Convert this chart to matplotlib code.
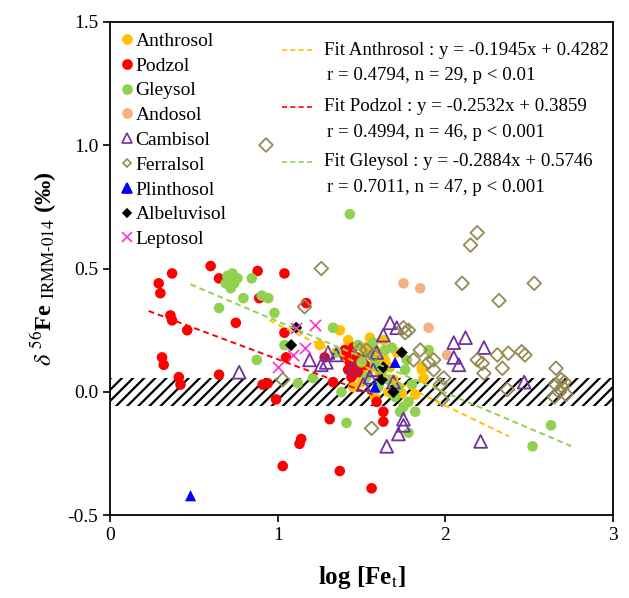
import numpy as np
import matplotlib
matplotlib.use('Agg')
import matplotlib.pyplot as plt
from matplotlib.lines import Line2D

plt.rcParams['font.family'] = ['Liberation Serif', 'DejaVu Serif']
plt.rcParams['mathtext.fontset'] = 'stix'
plt.rcParams['hatch.linewidth'] = 1.6

# ---- data: log[Fe_t] vs d56Fe ----
anthrosol_x = [1.37, 1.25, 1.42, 1.55, 1.63, 1.49, 1.59, 1.67, 1.53, 1.61, 1.86, 1.87, 1.73, 1.82, 1.71,
               1.45, 1.66, 1.86, 1.52, 1.58, 1.47, 1.56, 1.64, 1.74, 1.60, 1.50, 1.69, 1.40, 1.58]
anthrosol_y = [0.25, 0.19, 0.21, 0.22, 0.21, 0.14, 0.13, 0.10, 0.07, 0.07, 0.09, 0.055, 0.0, -0.01, 0.16,
               0.02, 0.0, 0.10, 0.18, 0.17, 0.10, 0.10, 0.13, -0.005, 0.02, 0.04, 0.05, 0.14, -0.02]

podzol_x = [0.29, 0.30, 0.37, 0.60, 0.65, 0.88, 1.04, 0.36, 0.37, 0.46, 0.75, 0.89, 1.04, 1.05, 1.17,
            0.31, 0.32, 0.41, 0.42, 0.65, 0.91, 0.94, 0.99, 1.14, 1.13, 1.03, 1.31, 1.37, 1.56, 1.63,
            1.63, 1.59, 1.28, 1.33, 1.41, 1.43, 1.45, 1.46, 1.48, 1.50, 1.42, 1.52, 1.40, 1.47, 1.44, 1.49]
podzol_y = [0.44, 0.40, 0.48, 0.51, 0.46, 0.49, 0.48, 0.31, 0.29, 0.25, 0.28, 0.38, 0.24, 0.14, 0.36,
            0.14, 0.11, 0.06, 0.03, 0.07, 0.03, 0.035, -0.03, -0.19, -0.21, -0.30, -0.11, -0.32, -0.39, -0.08,
            -0.12, -0.04, 0.14, 0.04, 0.15, 0.12, 0.18, 0.10, 0.08, 0.13, 0.09, 0.11, 0.17, 0.14, 0.06, 0.11]

gleysol_x = [0.70, 0.73, 0.74, 0.72, 0.76, 0.69, 0.845, 0.65, 0.795, 0.905, 0.944, 0.98, 0.875, 1.04, 1.43,
             1.33, 1.90, 1.12, 1.21, 1.38, 1.41, 1.73, 1.75, 1.78, 1.82, 1.78, 2.63, 2.52, 1.57, 1.77,
             1.55, 1.62, 1.68, 1.50, 1.60, 1.66, 1.70, 1.80, 1.53, 1.35, 1.76, 1.64, 1.58, 1.72, 1.48]
gleysol_y = [0.47, 0.48, 0.44, 0.42, 0.46, 0.44, 0.46, 0.34, 0.38, 0.39, 0.38, 0.32, 0.13, 0.19, 0.72,
             0.26, 0.17, 0.035, 0.056, 0.0, -0.125, -0.08, -0.06, -0.04, -0.08, -0.165, -0.135, -0.22, 0.20, 0.13,
             0.15, 0.08, 0.18, 0.12, 0.02, 0.05, -0.02, 0.03, 0.06, 0.16, 0.09, 0.17, 0.11, 0.02, 0.19]

andosol_x = [1.75, 1.85, 1.90, 2.01]
andosol_y = [0.44, 0.42, 0.26, 0.15]

cambisol_x = [0.77, 1.19, 1.26, 1.30, 1.29, 1.51, 1.55, 1.57, 1.59, 1.63, 1.67, 1.71, 1.69, 1.75, 1.75,
              1.72, 1.65, 2.05, 2.12, 2.23, 2.05, 2.08, 2.47, 2.21, 1.45, 1.35]
cambisol_y = [0.08, 0.13, 0.11, 0.16, 0.12, 0.03, 0.06, 0.09, 0.16, 0.23, 0.28, 0.26, 0.04, -0.11, -0.135,
              -0.17, -0.22, 0.20, 0.22, 0.18, 0.14, 0.11, 0.04, -0.20, 0.10, 0.15]

ferralsol_x = [0.93, 1.26, 1.16, 1.75, 1.76, 1.78, 2.19, 2.15, 2.10, 2.53, 2.32, 2.31, 2.375, 2.455, 2.475,
               2.19, 2.22, 2.23, 2.34, 2.66, 1.93, 1.93, 1.99, 1.98, 2.37, 2.66, 2.68, 2.70, 2.72, 2.69,
               2.65, 2.71, 1.56, 1.53, 1.57, 1.81, 1.90, 1.49, 1.97, 1.85, 1.03]
ferralsol_y = [1.0, 0.50, 0.345, 0.26, 0.24, 0.25, 0.645, 0.595, 0.44, 0.44, 0.37, 0.15, 0.157, 0.163, 0.15,
               0.13, 0.116, 0.076, 0.096, 0.096, 0.13, 0.09, 0.057, -0.03, 0.01, 0.03, 0.0, 0.02, -0.01, 0.05,
               -0.02, 0.04, -0.147, 0.17, 0.15, 0.13, 0.12, 0.17, 0.03, 0.17, 0.05]

plinthosol_x = [0.48, 1.70, 1.58]
plinthosol_y = [-0.42, 0.12, 0.02]

albeluvisol_x = [1.08, 1.11, 1.74, 1.63, 1.62, 1.69]
albeluvisol_y = [0.19, 0.26, 0.16, 0.10, 0.05, 0.0]

leptosol_x = [1.11, 1.22, 1.16, 1.00, 1.09]
leptosol_y = [0.26, 0.27, 0.18, 0.10, 0.15]

# fitted lines as drawn (start x, end x, start y, end y)
fit_names = ['Anthrosol', 'Podzol', 'Gleysol']
fit_x0 = [0.95, 0.23, 0.48]
fit_x1 = [2.38, 1.59, 2.75]
fit_y0 = [0.29, 0.328, 0.436]
fit_y1 = [-0.18, -0.017, -0.219]
fit_eq = ['y = -0.1945x + 0.4282', 'y = -0.2532x + 0.3859', 'y = -0.2884x + 0.5746']
fit_stat = ['r = 0.4794, n = 29, p < 0.01', 'r = 0.4994, n = 46, p < 0.001', 'r = 0.7011, n = 47, p < 0.001']

c_orange = '#FFC000'
c_red = '#FF0000'
c_green = '#92D050'
c_peach = '#F4B183'
c_purple = '#7030A0'
c_khaki = '#948A54'
c_blue = '#0000FF'
c_pink = '#FF33CC'

fig = plt.figure(figsize=(6.29, 5.98), dpi=100)
ax = fig.add_axes([0.175, 0.138, 0.7996, 0.826])

# reference band
ax.axhspan(-0.055, 0.055, facecolor='white', edgecolor='black', hatch='///', linewidth=0, zorder=1)

series = [
    ('Anthrosol', anthrosol_x, anthrosol_y, dict(marker='o', s=58, c=c_orange, edgecolors='none')),
    ('Podzol', podzol_x, podzol_y, dict(marker='o', s=58, c=c_red, edgecolors='none')),
    ('Gleysol', gleysol_x, gleysol_y, dict(marker='o', s=58, c=c_green, edgecolors='none')),
    ('Andosol', andosol_x, andosol_y, dict(marker='o', s=58, c=c_peach, edgecolors='none')),
    ('Cambisol', cambisol_x, cambisol_y, dict(marker='^', s=85, facecolors='none', edgecolors=c_purple, linewidths=1.3)),
    ('Ferralsol', ferralsol_x, ferralsol_y, dict(marker='D', s=48, facecolors='none', edgecolors=c_khaki, linewidths=1.3)),
    ('Plinthosol', plinthosol_x, plinthosol_y, dict(marker='^', s=65, c=c_blue, edgecolors='none')),
    ('Albeluvisol', albeluvisol_x, albeluvisol_y, dict(marker='D', s=38, c='black', edgecolors='none')),
    ('Leptosol', leptosol_x, leptosol_y, dict(marker='x', s=65, c=c_pink, linewidths=1.2)),
]
for name, xs, ys, kw in series:
    ax.scatter(xs, ys, zorder=3, **kw)

fit_colors = [c_orange, c_red, c_green]
for i in range(3):
    ax.plot([fit_x0[i], fit_x1[i]], [fit_y0[i], fit_y1[i]], ls=(0, (3, 2)), lw=1.4,
            color=fit_colors[i], zorder=4)

# marker legend
handles = []
leg_style = [('o', c_orange, c_orange), ('o', c_red, c_red), ('o', c_green, c_green), ('o', c_peach, c_peach),
             ('^', 'none', c_purple), ('D', 'none', c_khaki), ('^', c_blue, c_blue), ('D', 'black', 'black'),
             ('x', c_pink, c_pink)]
for (name, xs, ys, kw), (m, fc, ec) in zip(series, leg_style):
    handles.append(Line2D([], [], ls='none', marker=m, markersize=6.5 if m != 'D' else 4.5,
                          markerfacecolor=fc, markeredgecolor=ec, markeredgewidth=1.2, label=name))
ax.legend(handles=handles, loc='upper left', bbox_to_anchor=(0.0, 1.0), frameon=False, fontsize=14,
          handlelength=0.6, handletextpad=0.15, labelspacing=0.37, borderaxespad=0.25, borderpad=0.3)

# fit legend
fit_ly = [0.942, 0.827, 0.716]
for i in range(3):
    ax.plot([0.341, 0.403], [fit_ly[i], fit_ly[i]], transform=ax.transAxes, ls=(0, (3, 2)), lw=1.2,
            color=fit_colors[i])
    ax.text(0.425, fit_ly[i], 'Fit ' + fit_names[i] + ' : ' + fit_eq[i], transform=ax.transAxes,
            fontsize=13.6, va='center', ha='left')
    ax.text(0.431, fit_ly[i] - 0.051, fit_stat[i], transform=ax.transAxes,
            fontsize=13.6, va='center', ha='left')

ax.set_xlim(0, 3)
ax.set_ylim(-0.5, 1.5)
ax.set_xticks([0, 1, 2, 3])
ax.set_yticks([-0.5, 0.0, 0.5, 1.0, 1.5])
ax.set_yticklabels(['-0.5', '0.0', '0.5', '1.0', '1.5'])
ax.tick_params(direction='out', length=5, width=1.2, labelsize=14)
for sp in ax.spines.values():
    sp.set_linewidth(1.3)

ax.set_xlabel(r'log [Fe$_{\rm t}$]', fontsize=18, fontweight='bold', labelpad=14)
ax.set_ylabel(r'$\delta$ $^{56}$Fe $_{\rm IRMM\text{-}014}$ (‰)', fontsize=17.5, fontweight='bold', labelpad=6)

plt.savefig('out.png', dpi=100)
